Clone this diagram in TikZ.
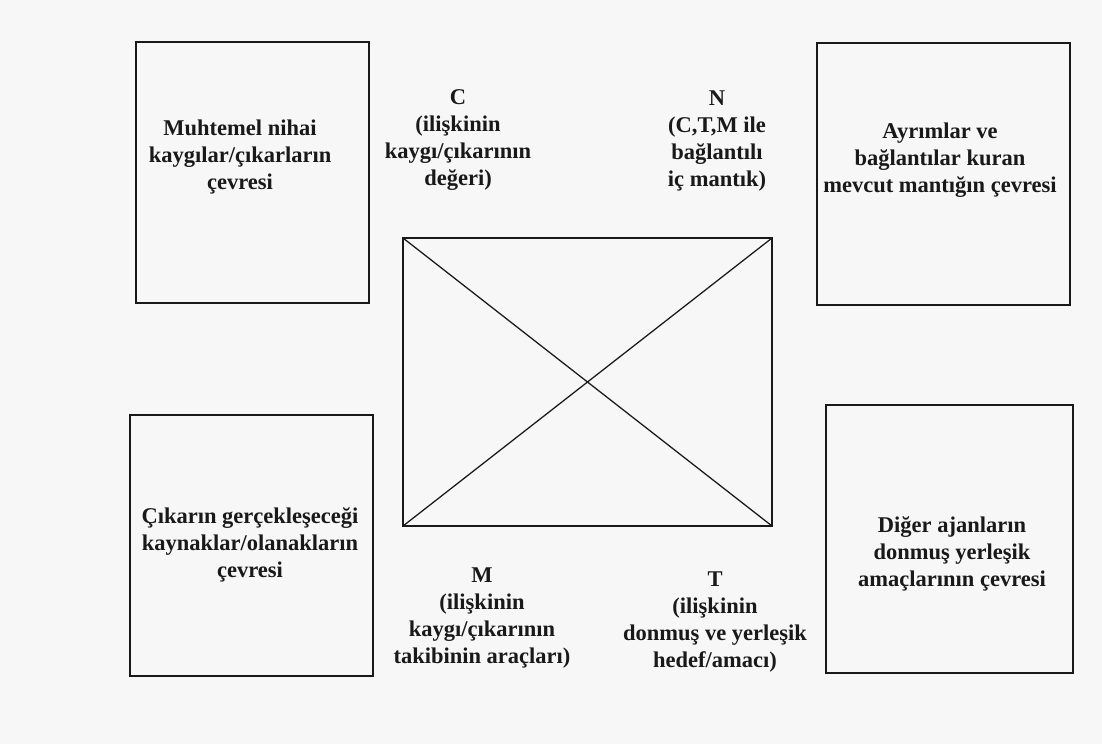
\documentclass[tikz,border=0pt]{standalone}
\usepackage{fontspec}
\setmainfont{Liberation Serif}
\usepackage{tikz}
\definecolor{paper}{HTML}{F7F7F7}

\begin{document}
\begin{tikzpicture}[x=0.025cm, y=-0.025cm,
  envbox/.style={draw=black!90, line width=0.9pt, inner sep=0pt, outer sep=0pt},
  boxtext/.style={align=center, text=black!90, font=\fontsize{16}{19.1}\selectfont\bfseries}]

% Background
\fill[paper] (0,0) rectangle (1102,744);

% Environment boxes
\node[envbox, minimum width=5.825cm, minimum height=6.525cm] (concerns) at (252.5,172.5) {};
\node[envbox, minimum width=6.325cm, minimum height=6.55cm] (logic) at (943.5,174) {};
\node[envbox, minimum width=6.075cm, minimum height=6.525cm] (resources) at (251.5,545.5) {};
\node[envbox, minimum width=6.175cm, minimum height=6.7cm] (agents) at (949.5,539) {};

\node[boxtext] (concernstext) at (240,157) {Muhtemel nihai\\kaygılar/çıkarların\\çevresi};
\node[boxtext] (logictext) at (940,160) {Ayrımlar ve\\bağlantılar kuran\\mevcut mantığın çevresi};
\node[boxtext] (resourcestext) at (250,545) {Çıkarın gerçekleşeceği\\kaynaklar/olanakların\\çevresi};
\node[boxtext] (agentstext) at (952,554) {Diğer ajanların\\donmuş yerleşik\\amaçlarının çevresi};

% Central relation
\node[envbox, minimum width=9.225cm, minimum height=7.2cm] (core) at (587.5,382) {};
\draw[line width=0.9pt, black!90] (core.north west) -- (core.south east);
\draw[line width=0.9pt, black!90] (core.south west) -- (core.north east);

% Corner labels
\node[boxtext] (C) at (458,140) {C\\(ilişkinin\\kaygı/çıkarının\\değeri)};
\node[boxtext] (N) at (717,141) {N\\(C,T,M ile\\bağlantılı\\iç mantık)};
\node[boxtext] (M) at (482,618) {M\\(ilişkinin\\kaygı/çıkarının\\takibinin araçları)};
\node[boxtext] (T) at (715,622) {T\\(ilişkinin\\donmuş ve yerleşik\\hedef/amacı)};

\end{tikzpicture}
\end{document}
